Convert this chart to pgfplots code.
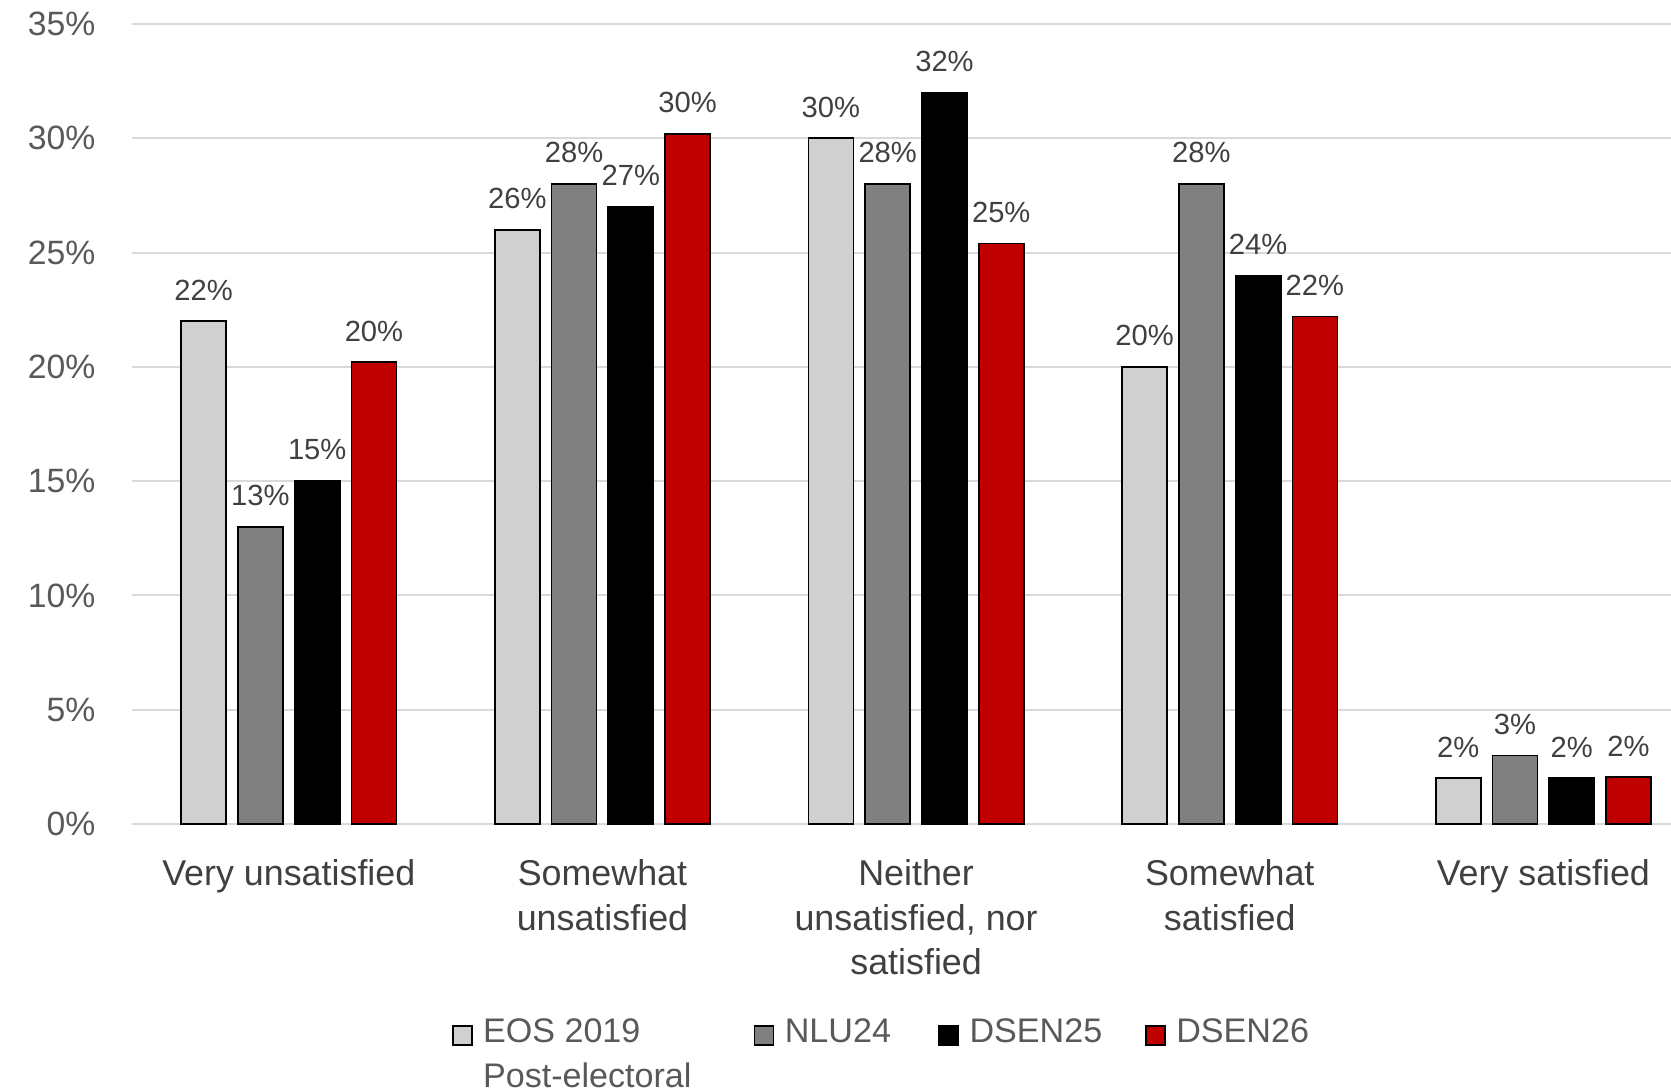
\documentclass[border=0pt]{standalone}
\usepackage{fontspec}
\setmainfont{Liberation Sans}
\usepackage{pgfplots}
\pgfplotsset{compat=1.18}

\definecolor{eosgray}{RGB}{208,208,208}
\definecolor{nlugray}{RGB}{128,128,128}
\definecolor{dsenred}{RGB}{192,0,0}
\definecolor{gridgray}{RGB}{217,217,217}
\definecolor{ticktext}{RGB}{89,89,89}
\definecolor{labeltext}{RGB}{64,64,64}

\begin{document}
\begin{tikzpicture}
\path[use as bounding box] (-1.32cm,-2.68cm) rectangle (15.39cm,8.24cm);
\begin{axis}[
  at={(0,0)}, anchor=south west,
  scale only axis, width=15.39cm, height=8cm,
  xmin=-0.5, xmax=4.407, ymin=0, ymax=35,
  ybar, bar width=0.1435,
  axis line style={draw=none}, tick style={draw=none},
  ymajorgrids, grid style={draw=gridgray, line width=0.55pt},
  ytick={0,5,...,35}, yticklabel={\pgfmathprintnumber{\tick}\%},
  /pgf/number format/assume math mode=true,
  yticklabel style={font=\fontsize{9.6}{11}\selectfont, text=ticktext, inner sep=0pt, xshift=-0.36cm},
  xtick={0,1,2,3,4},
  xticklabels={Very unsatisfied, {Somewhat\\unsatisfied}, {Neither\\unsatisfied, nor\\satisfied}, {Somewhat\\satisfied}, Very satisfied},
  xticklabel style={align=center, font=\fontsize{10.2}{12.7}\selectfont, text=labeltext, inner sep=0pt, yshift=-0.20cm},
  nodes near coords={\pgfmathprintnumber[fixed,precision=0]{\pgfplotspointmeta}\%},
  nodes near coords style={font=\fontsize{8.3}{10}\selectfont, text=labeltext, inner sep=0pt, yshift=0.2cm},
  clip=false,
  legend columns=4, legend cell align=left,
  legend style={at={(0.2073,-0.2425)}, anchor=north west, draw=none, inner sep=0pt,
    column sep=0.106cm, font=\fontsize{9.7}{12}\selectfont, text=ticktext,
    nodes={inner sep=0pt}, /tikz/every even column/.append style={column sep=0pt}},
  legend image code/.code={\draw[#1, line width=0.5pt] (0cm,-0.115cm) rectangle (0.19cm,0.075cm);},
]
\addplot[fill=eosgray, draw=black, line width=0.5pt, bar shift=-0.2715]
  coordinates {(0,22)(1,26)(2,30)(3,20)(4,2)};
\addlegendentry{\makebox[2.704cm][l]{\rlap{\raisebox{-0.45cm}[0pt][0pt]{Post-electoral}}EOS 2019}}
\addplot[fill=nlugray, draw=black, line width=0.5pt, bar shift=-0.0905]
  coordinates {(0,13)(1,28)(2,28)(3,28)(4,3)};
\addlegendentry{\makebox[1.534cm][l]{NLU24}}
\addplot[fill=black, draw=black, line width=0.5pt, bar shift=0.0905]
  coordinates {(0,15)(1,27)(2,32)(3,24)(4,2)};
\addlegendentry{\makebox[1.754cm][l]{DSEN25}}
\addplot[fill=dsenred, draw=black, line width=0.5pt, bar shift=0.2715]
  coordinates {(0,20.2)(1,30.2)(2,25.4)(3,22.2)(4,2.05)};
\addlegendentry{DSEN26}
\end{axis}
\end{tikzpicture}
\end{document}
